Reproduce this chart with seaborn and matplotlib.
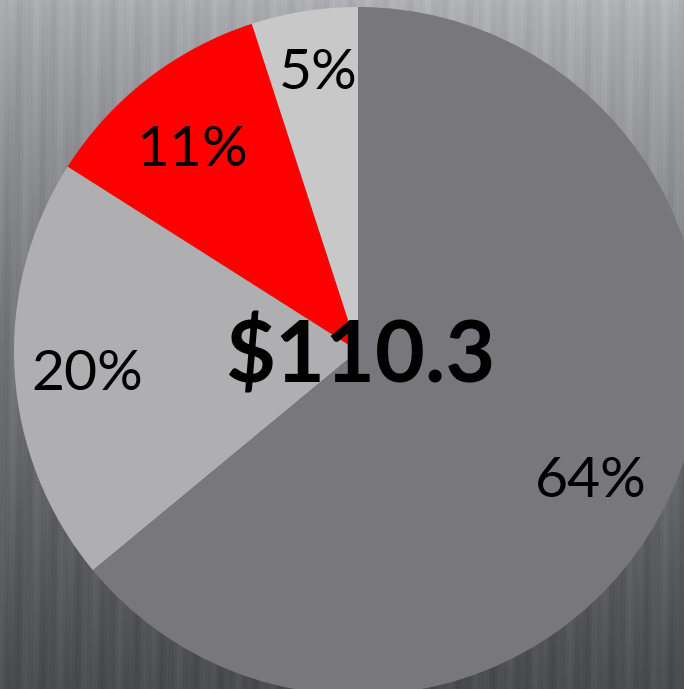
import numpy as np
import matplotlib
matplotlib.use("Agg")
import matplotlib.pyplot as plt
import seaborn as sns

# Revenue split (percent of total) and the headline total
shares = [5, 11, 20, 64]
share_labels = ["5%", "11%", "20%", "64%"]
total_label = "$110.3"

sns.set_style("white")
plt.rcParams["font.family"] = ["Lato", "DejaVu Sans"]

slice_colors = sns.color_palette(["#c8c8c9", "#ff0000", "#afafb1", "#78777c"])
# label placement: distance from centre (pie radii) and turn from the slice bisector (deg)
label_radius = [0.814, 0.756, 0.791, 0.776]
label_turn = [-0.8, 1.9, 1.4, -4.0]

fig = plt.figure(figsize=(6.84, 6.89), dpi=100)

# brushed-metal style backdrop: light at the top, darker towards the bottom
bg = fig.add_axes([0, 0, 1, 1], zorder=0)
h, w = 689, 684
yy, xx = np.mgrid[0:h, 0:w]
t = yy / (h - 1)
base = 172 - 95 * np.clip(t, 0, 1) ** 0.8 + 10 * (xx / w) * (1 - t)
streaks = (4 * np.sin(xx * 0.21 + yy * 0.012) + 3 * np.sin(xx * 0.53 + 1.3)
           + 2 * np.sin(xx * 1.7 + yy * 0.03))
lum = base + streaks
img = np.stack([lum - 2, lum - 1, lum + 3], axis=-1)
img = np.clip(img, 0, 255) / 255.0
bg.imshow(img, aspect="auto", extent=[0, 1, 0, 1], origin="upper")
bg.set_axis_off()

# pie: centre at (358, 351) px, radius 344 px
ax = fig.add_axes([0, 0, 1, 1], zorder=1)
ax.patch.set_alpha(0)
R = 344.0
cx, cy = 358.0, 351.0

wedges, _ = ax.pie(shares, colors=slice_colors, startangle=90, counterclock=True,
                   radius=1.0, center=(0, 0), wedgeprops=dict(linewidth=0))
ax.set_xlim(-cx / R, (w - cx) / R)
ax.set_ylim((cy - h) / R, cy / R)
ax.set_aspect("auto")
ax.set_axis_off()

for wdg, lab, r, turn in zip(wedges, share_labels, label_radius, label_turn):
    mid = np.deg2rad((wdg.theta1 + wdg.theta2) / 2 + turn)
    ax.text(r * np.cos(mid), r * np.sin(mid), lab, ha="center", va="center",
            fontsize=41, color="black")

ax.text(0.005, -0.015, total_label, ha="center", va="center", fontsize=62,
        fontweight="bold", color="black")

fig.savefig("out.png", dpi=100)
